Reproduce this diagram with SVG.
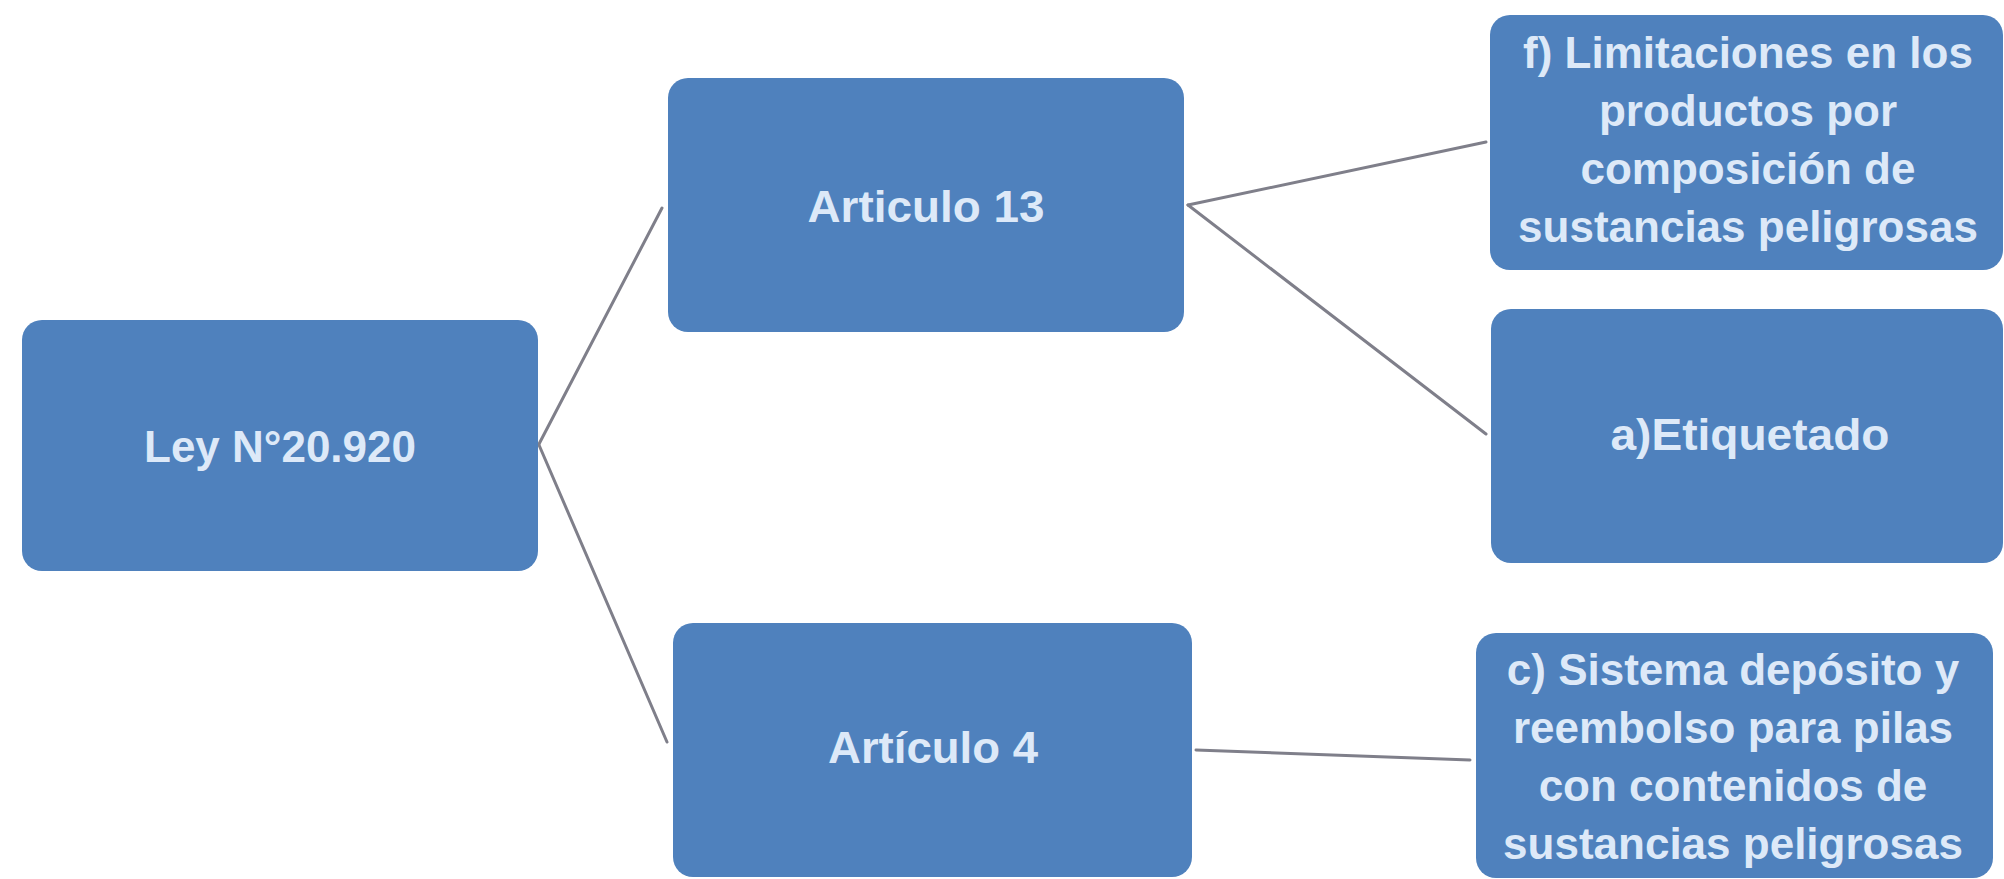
<svg xmlns="http://www.w3.org/2000/svg" width="2004" height="879" viewBox="0 0 2004 879">
<style>
.box{fill:#4f81bd;}
.t{font-family:"Liberation Sans",Arial,sans-serif;font-weight:bold;font-size:44px;fill:#dde9f8;text-anchor:middle;}
.c{stroke:#7f7f8a;stroke-width:3;fill:none;stroke-linecap:round;}
</style>
<rect width="2004" height="879" fill="#ffffff"/>
<g id="connectors">
<line class="c" x1="539" y1="444" x2="662" y2="208"/>
<line class="c" x1="539" y1="445" x2="667" y2="742"/>
<line class="c" x1="1188" y1="205" x2="1486" y2="142"/>
<line class="c" x1="1188" y1="205" x2="1486" y2="434"/>
<line class="c" x1="1196" y1="750" x2="1470" y2="760"/>
</g>
<g id="ley">
<rect class="box" x="22" y="320" width="516" height="251" rx="20"/>
<text class="t" x="280" y="462">Ley N°20.920</text>
</g>
<g id="art13">
<rect class="box" x="668" y="78" width="516" height="254" rx="20"/>
<text class="t" x="926" y="222" textLength="237" lengthAdjust="spacingAndGlyphs">Articulo 13</text>
</g>
<g id="art4">
<rect class="box" x="673" y="623" width="519" height="254" rx="20"/>
<text class="t" x="933" y="763" textLength="210" lengthAdjust="spacingAndGlyphs">Artículo 4</text>
</g>
<g id="f">
<rect class="box" x="1490" y="15" width="513" height="255" rx="20"/>
<text class="t" x="1748" y="68">f) Limitaciones en los</text>
<text class="t" x="1748" y="126">productos por</text>
<text class="t" x="1748" y="184">composición de</text>
<text class="t" x="1748" y="242">sustancias peligrosas</text>
</g>
<g id="a">
<rect class="box" x="1491" y="309" width="512" height="254" rx="20"/>
<text class="t" x="1750" y="450" textLength="279" lengthAdjust="spacingAndGlyphs">a)Etiquetado</text>
</g>
<g id="c">
<rect class="box" x="1476" y="633" width="517" height="245" rx="20"/>
<text class="t" x="1733" y="685">c) Sistema depósito y</text>
<text class="t" x="1733" y="743">reembolso para pilas</text>
<text class="t" x="1733" y="801">con contenidos de</text>
<text class="t" x="1733" y="859">sustancias peligrosas</text>
</g>
</svg>
